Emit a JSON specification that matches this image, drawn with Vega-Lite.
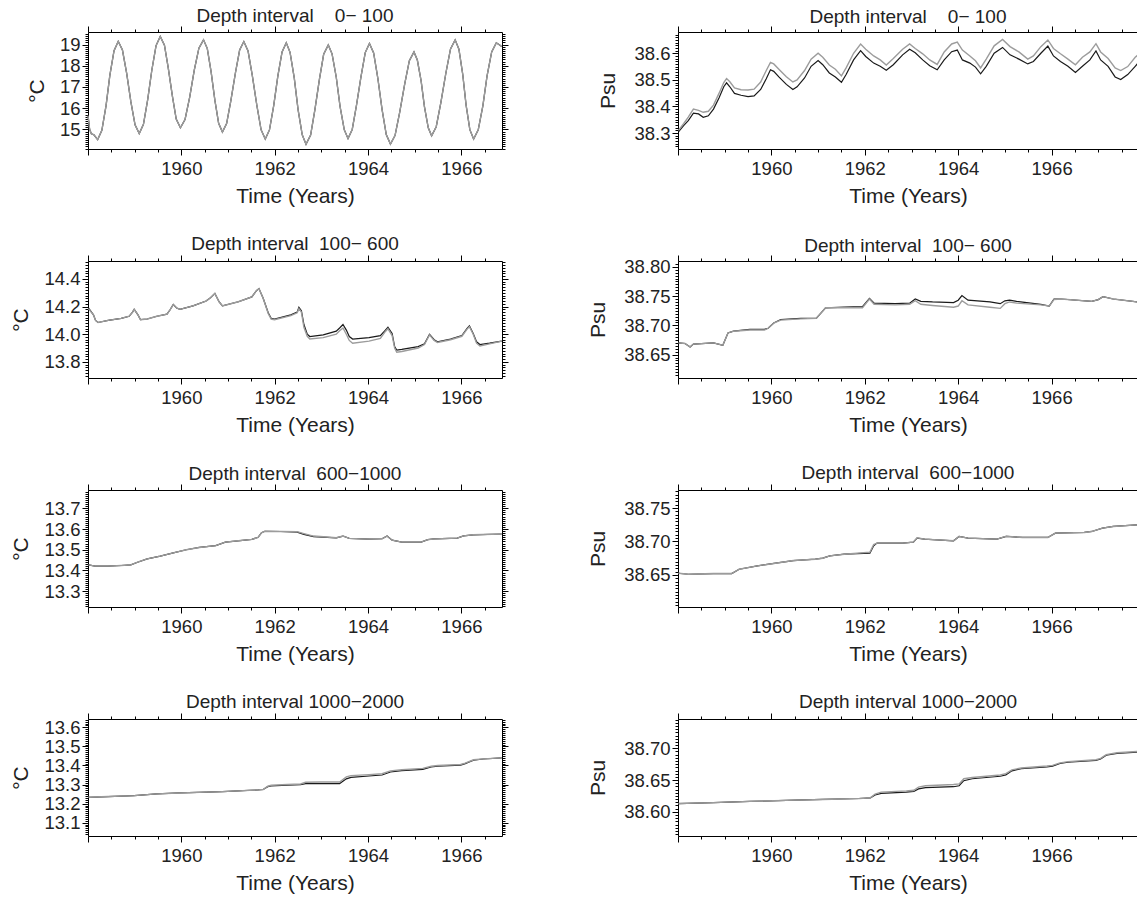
{
  "$schema": "https://vega.github.io/schema/vega-lite/v6.json",
  "background": "white",
  "padding": {"left": 10, "top": 6, "right": 0, "bottom": 0},
  "config": {
    "font": "Liberation Sans",
    "view": {"stroke": null},
    "title": {"fontSize": 19, "fontWeight": "normal", "color": "#222222", "offset": -1, "frame": "group", "anchor": "middle"},
    "axis": {"labelFontSize": 18.5, "labelColor": "#222222", "titleFontSize": 21, "titleFontWeight": "normal", "titleColor": "#222222", "domainColor": "#000000", "tickColor": "#000000", "domainWidth": 1, "tickWidth": 1, "grid": false, "labelOverlap": false, "labelFlush": false, "labelBound": false, "labelPadding": 2, "titlePadding": 12},
    "axisX": {"labelPadding": 4, "titlePadding": 8},
    "line": {"clip": true}
  },
  "datasets": {
    "T0": [
      {"t":1958.000,"k":15.65,"g":15.65},{"t":1958.036,"k":15.00,"g":15.00},{"t":1958.072,"k":14.80,"g":14.80},{"t":1958.126,"k":14.75,"g":14.75},{"t":1958.207,"k":14.52,"g":14.52},
      {"t":1958.297,"k":14.96,"g":14.96},{"t":1958.387,"k":16.12,"g":16.12},{"t":1958.468,"k":17.55,"g":17.55},{"t":1958.558,"k":18.71,"g":18.71},{"t":1958.648,"k":19.15,"g":19.15},
      {"t":1958.738,"k":18.74,"g":18.74},{"t":1958.828,"k":17.65,"g":17.65},{"t":1958.918,"k":16.31,"g":16.31},{"t":1959.008,"k":15.22,"g":15.22},{"t":1959.098,"k":14.81,"g":14.81},
      {"t":1959.188,"k":15.24,"g":15.24},{"t":1959.278,"k":16.39,"g":16.39},{"t":1959.368,"k":17.80,"g":17.80},{"t":1959.458,"k":18.95,"g":18.95},{"t":1959.548,"k":19.38,"g":19.38},
      {"t":1959.638,"k":18.97,"g":18.97},{"t":1959.719,"k":17.90,"g":17.90},{"t":1959.809,"k":16.56,"g":16.56},{"t":1959.890,"k":15.49,"g":15.49},{"t":1959.980,"k":15.08,"g":15.08},
      {"t":1960.079,"k":15.47,"g":15.47},{"t":1960.178,"k":16.51,"g":16.51},{"t":1960.277,"k":17.79,"g":17.79},{"t":1960.376,"k":18.83,"g":18.83},{"t":1960.475,"k":19.22,"g":19.22},
      {"t":1960.556,"k":18.81,"g":18.81},{"t":1960.637,"k":17.72,"g":17.72},{"t":1960.718,"k":16.38,"g":16.38},{"t":1960.799,"k":15.29,"g":15.29},{"t":1960.880,"k":14.88,"g":14.88},
      {"t":1960.970,"k":15.28,"g":15.28},{"t":1961.060,"k":16.35,"g":16.35},{"t":1961.159,"k":17.67,"g":17.67},{"t":1961.249,"k":18.74,"g":18.74},{"t":1961.339,"k":19.14,"g":19.14},
      {"t":1961.429,"k":18.70,"g":18.70},{"t":1961.519,"k":17.56,"g":17.56},{"t":1961.618,"k":16.13,"g":16.13},{"t":1961.708,"k":14.99,"g":14.99},{"t":1961.798,"k":14.55,"g":14.55},
      {"t":1961.888,"k":14.98,"g":14.98},{"t":1961.978,"k":16.11,"g":16.11},{"t":1962.068,"k":17.52,"g":17.52},{"t":1962.158,"k":18.65,"g":18.65},{"t":1962.248,"k":19.08,"g":19.08},
      {"t":1962.329,"k":18.63,"g":18.63},{"t":1962.419,"k":17.43,"g":17.43},{"t":1962.500,"k":15.95,"g":15.95},{"t":1962.590,"k":14.75,"g":14.75},{"t":1962.671,"k":14.30,"g":14.30},
      {"t":1962.770,"k":14.74,"g":14.74},{"t":1962.860,"k":15.91,"g":15.91},{"t":1962.959,"k":17.37,"g":17.37},{"t":1963.049,"k":18.54,"g":18.54},{"t":1963.148,"k":18.98,"g":18.98},
      {"t":1963.229,"k":18.56,"g":18.56},{"t":1963.319,"k":17.46,"g":17.46},{"t":1963.400,"k":16.09,"g":16.09},{"t":1963.490,"k":14.99,"g":14.99},{"t":1963.571,"k":14.57,"g":14.57},
      {"t":1963.661,"k":15.00,"g":15.00},{"t":1963.751,"k":16.12,"g":16.12},{"t":1963.850,"k":17.50,"g":17.50},{"t":1963.940,"k":18.62,"g":18.62},{"t":1964.030,"k":19.05,"g":19.05},
      {"t":1964.120,"k":18.60,"g":18.60},{"t":1964.210,"k":17.41,"g":17.41},{"t":1964.300,"k":15.95,"g":15.95},{"t":1964.390,"k":14.76,"g":14.76},{"t":1964.480,"k":14.31,"g":14.31},
      {"t":1964.579,"k":14.72,"g":14.72},{"t":1964.678,"k":15.81,"g":15.81},{"t":1964.786,"k":17.15,"g":17.15},{"t":1964.885,"k":18.24,"g":18.24},{"t":1964.984,"k":18.65,"g":18.65},
      {"t":1965.056,"k":18.27,"g":18.27},{"t":1965.137,"k":17.29,"g":17.29},{"t":1965.209,"k":16.06,"g":16.06},{"t":1965.290,"k":15.08,"g":15.08},{"t":1965.362,"k":14.70,"g":14.70},
      {"t":1965.461,"k":15.13,"g":15.13},{"t":1965.560,"k":16.26,"g":16.26},{"t":1965.668,"k":17.66,"g":17.66},{"t":1965.767,"k":18.79,"g":18.79},{"t":1965.866,"k":19.22,"g":19.22},
      {"t":1965.947,"k":18.78,"g":18.78},{"t":1966.028,"k":17.61,"g":17.61},{"t":1966.100,"k":16.16,"g":16.16},{"t":1966.181,"k":14.99,"g":14.99},{"t":1966.262,"k":14.55,"g":14.55},
      {"t":1966.361,"k":14.98,"g":14.98},{"t":1966.460,"k":16.11,"g":16.11},{"t":1966.550,"k":17.52,"g":17.52},{"t":1966.649,"k":18.65,"g":18.65},{"t":1966.748,"k":19.08,"g":19.08},
      {"t":1966.820,"k":18.98,"g":18.98},{"t":1966.865,"k":18.90,"g":18.90}
    ],
    "S0": [
      {"t":1958.01,"k":38.304,"g":38.31},{"t":1958.12,"k":38.328,"g":38.335},{"t":1958.22,"k":38.347,"g":38.36},{"t":1958.33,"k":38.375,"g":38.39},{"t":1958.44,"k":38.372,"g":38.385},
      {"t":1958.54,"k":38.359,"g":38.378},{"t":1958.65,"k":38.365,"g":38.382},{"t":1958.76,"k":38.39,"g":38.405},{"t":1958.88,"k":38.433,"g":38.45},{"t":1958.98,"k":38.474,"g":38.49},
      {"t":1959.04,"k":38.489,"g":38.505},{"t":1959.11,"k":38.474,"g":38.493},{"t":1959.21,"k":38.449,"g":38.47},{"t":1959.35,"k":38.442,"g":38.463},{"t":1959.50,"k":38.437,"g":38.462},
      {"t":1959.63,"k":38.44,"g":38.465},{"t":1959.77,"k":38.464,"g":38.492},{"t":1959.89,"k":38.504,"g":38.535},{"t":1959.98,"k":38.538,"g":38.566},{"t":1960.05,"k":38.532,"g":38.56},
      {"t":1960.16,"k":38.511,"g":38.54},{"t":1960.32,"k":38.483,"g":38.512},{"t":1960.46,"k":38.464,"g":38.492},{"t":1960.55,"k":38.474,"g":38.50},{"t":1960.71,"k":38.507,"g":38.535},
      {"t":1960.85,"k":38.551,"g":38.578},{"t":1961.00,"k":38.573,"g":38.60},{"t":1961.10,"k":38.557,"g":38.585},{"t":1961.24,"k":38.526,"g":38.556},{"t":1961.37,"k":38.511,"g":38.54},
      {"t":1961.50,"k":38.491,"g":38.515},{"t":1961.60,"k":38.52,"g":38.545},{"t":1961.76,"k":38.575,"g":38.60},{"t":1961.91,"k":38.61,"g":38.635},{"t":1962.02,"k":38.588,"g":38.615},
      {"t":1962.19,"k":38.563,"g":38.59},{"t":1962.33,"k":38.551,"g":38.575},{"t":1962.46,"k":38.536,"g":38.556},{"t":1962.61,"k":38.557,"g":38.58},{"t":1962.81,"k":38.594,"g":38.615},
      {"t":1962.96,"k":38.615,"g":38.635},{"t":1963.08,"k":38.602,"g":38.618},{"t":1963.24,"k":38.575,"g":38.598},{"t":1963.39,"k":38.553,"g":38.575},{"t":1963.55,"k":38.538,"g":38.558},
      {"t":1963.70,"k":38.575,"g":38.605},{"t":1963.86,"k":38.606,"g":38.635},{"t":1963.98,"k":38.612,"g":38.642},{"t":1964.09,"k":38.575,"g":38.612},{"t":1964.25,"k":38.563,"g":38.59},
      {"t":1964.37,"k":38.548,"g":38.572},{"t":1964.48,"k":38.523,"g":38.545},{"t":1964.60,"k":38.551,"g":38.578},{"t":1964.77,"k":38.60,"g":38.628},{"t":1964.95,"k":38.622,"g":38.652},
      {"t":1965.11,"k":38.594,"g":38.625},{"t":1965.30,"k":38.578,"g":38.605},{"t":1965.49,"k":38.56,"g":38.578},{"t":1965.61,"k":38.569,"g":38.59},{"t":1965.77,"k":38.60,"g":38.625},
      {"t":1965.92,"k":38.627,"g":38.65},{"t":1966.04,"k":38.59,"g":38.618},{"t":1966.19,"k":38.569,"g":38.598},{"t":1966.35,"k":38.551,"g":38.578},{"t":1966.51,"k":38.528,"g":38.557},
      {"t":1966.66,"k":38.551,"g":38.585},{"t":1966.82,"k":38.575,"g":38.605},{"t":1966.95,"k":38.609,"g":38.636},{"t":1967.05,"k":38.575,"g":38.605},{"t":1967.21,"k":38.551,"g":38.58},
      {"t":1967.36,"k":38.511,"g":38.545},{"t":1967.48,"k":38.501,"g":38.535},{"t":1967.63,"k":38.52,"g":38.55},{"t":1967.79,"k":38.551,"g":38.585},{"t":1967.85,"k":38.563,"g":38.594}
    ],
    "T1": [
      {"t":1958.009,"k":14.19,"g":14.185},{"t":1958.117,"k":14.14,"g":14.14},{"t":1958.162,"k":14.10,"g":14.10},{"t":1958.216,"k":14.085,"g":14.085},{"t":1958.432,"k":14.10,"g":14.10},
      {"t":1958.711,"k":14.115,"g":14.115},{"t":1958.882,"k":14.13,"g":14.13},{"t":1958.954,"k":14.16,"g":14.16},{"t":1958.990,"k":14.18,"g":14.18},{"t":1959.071,"k":14.14,"g":14.14},
      {"t":1959.125,"k":14.105,"g":14.105},{"t":1959.269,"k":14.11,"g":14.11},{"t":1959.476,"k":14.13,"g":14.13},{"t":1959.692,"k":14.145,"g":14.145},{"t":1959.755,"k":14.175,"g":14.175},
      {"t":1959.827,"k":14.215,"g":14.215},{"t":1959.899,"k":14.19,"g":14.19},{"t":1959.971,"k":14.18,"g":14.18},{"t":1960.250,"k":14.205,"g":14.205},{"t":1960.529,"k":14.24,"g":14.24},
      {"t":1960.628,"k":14.265,"g":14.265},{"t":1960.718,"k":14.295,"g":14.295},{"t":1960.808,"k":14.235,"g":14.235},{"t":1960.880,"k":14.205,"g":14.205},{"t":1961.222,"k":14.235,"g":14.235},
      {"t":1961.510,"k":14.27,"g":14.27},{"t":1961.609,"k":14.315,"g":14.315},{"t":1961.663,"k":14.33,"g":14.33},{"t":1961.753,"k":14.26,"g":14.26},{"t":1961.861,"k":14.155,"g":14.15},
      {"t":1961.924,"k":14.115,"g":14.11},{"t":1961.996,"k":14.11,"g":14.105},{"t":1962.347,"k":14.14,"g":14.135},{"t":1962.482,"k":14.16,"g":14.155},{"t":1962.518,"k":14.195,"g":14.185},
      {"t":1962.572,"k":14.17,"g":14.16},{"t":1962.626,"k":14.07,"g":14.05},{"t":1962.698,"k":14.00,"g":13.985},{"t":1962.752,"k":13.983,"g":13.965},{"t":1963.040,"k":13.995,"g":13.975},
      {"t":1963.319,"k":14.022,"g":14.00},{"t":1963.391,"k":14.045,"g":14.025},{"t":1963.463,"k":14.07,"g":14.045},{"t":1963.535,"k":14.03,"g":14.00},{"t":1963.598,"k":13.983,"g":13.955},
      {"t":1963.670,"k":13.965,"g":13.935},{"t":1964.021,"k":13.975,"g":13.95},{"t":1964.264,"k":13.99,"g":13.97},{"t":1964.372,"k":14.03,"g":14.02},{"t":1964.426,"k":14.05,"g":14.04},
      {"t":1964.516,"k":14.005,"g":13.99},{"t":1964.570,"k":13.91,"g":13.90},{"t":1964.615,"k":13.885,"g":13.87},{"t":1964.723,"k":13.89,"g":13.875},{"t":1965.074,"k":13.91,"g":13.90},
      {"t":1965.209,"k":13.93,"g":13.925},{"t":1965.317,"k":14.00,"g":13.995},{"t":1965.416,"k":13.96,"g":13.955},{"t":1965.488,"k":13.945,"g":13.94},{"t":1965.767,"k":13.965,"g":13.96},
      {"t":1966.010,"k":13.99,"g":13.985},{"t":1966.118,"k":14.04,"g":14.035},{"t":1966.172,"k":14.06,"g":14.055},{"t":1966.253,"k":14.005,"g":14.00},{"t":1966.325,"k":13.945,"g":13.935},
      {"t":1966.397,"k":13.925,"g":13.915},{"t":1966.604,"k":13.935,"g":13.93},{"t":1966.865,"k":13.95,"g":13.95}
    ],
    "S1": [
      {"t":1958.01,"k":38.67,"g":38.67},{"t":1958.15,"k":38.669,"g":38.669},{"t":1958.26,"k":38.663,"g":38.663},{"t":1958.33,"k":38.668,"g":38.668},{"t":1958.76,"k":38.67,"g":38.67},
      {"t":1958.96,"k":38.666,"g":38.666},{"t":1959.07,"k":38.687,"g":38.687},{"t":1959.19,"k":38.69,"g":38.69},{"t":1959.54,"k":38.693,"g":38.692},{"t":1959.85,"k":38.693,"g":38.692},
      {"t":1959.93,"k":38.695,"g":38.695},{"t":1960.05,"k":38.704,"g":38.704},{"t":1960.20,"k":38.71,"g":38.709},{"t":1960.63,"k":38.712,"g":38.711},{"t":1960.96,"k":38.712,"g":38.712},
      {"t":1961.05,"k":38.72,"g":38.72},{"t":1961.16,"k":38.73,"g":38.73},{"t":1961.56,"k":38.731,"g":38.73},{"t":1961.95,"k":38.732,"g":38.73},{"t":1962.10,"k":38.746,"g":38.745},
      {"t":1962.20,"k":38.738,"g":38.736},{"t":1962.65,"k":38.737,"g":38.735},{"t":1962.96,"k":38.738,"g":38.736},{"t":1963.08,"k":38.745,"g":38.742},{"t":1963.20,"k":38.741,"g":38.736},
      {"t":1963.45,"k":38.74,"g":38.734},{"t":1963.90,"k":38.739,"g":38.731},{"t":1964.00,"k":38.743,"g":38.733},{"t":1964.08,"k":38.751,"g":38.742},{"t":1964.21,"k":38.743,"g":38.735},
      {"t":1964.68,"k":38.74,"g":38.731},{"t":1964.90,"k":38.737,"g":38.729},{"t":1965.00,"k":38.742,"g":38.737},{"t":1965.10,"k":38.743,"g":38.74},{"t":1965.25,"k":38.741,"g":38.738},
      {"t":1965.77,"k":38.736,"g":38.735},{"t":1965.95,"k":38.733,"g":38.733},{"t":1966.05,"k":38.745,"g":38.744},{"t":1966.20,"k":38.745,"g":38.745},{"t":1966.86,"k":38.741,"g":38.741},
      {"t":1967.00,"k":38.744,"g":38.744},{"t":1967.10,"k":38.749,"g":38.749},{"t":1967.32,"k":38.745,"g":38.745},{"t":1967.85,"k":38.74,"g":38.74}
    ],
    "T2": [
      {"t":1958.009,"k":13.427,"g":13.427},{"t":1958.153,"k":13.421,"g":13.421},{"t":1958.432,"k":13.421,"g":13.421},{"t":1958.711,"k":13.424,"g":13.424},{"t":1958.918,"k":13.427,"g":13.427},
      {"t":1959.062,"k":13.44,"g":13.44},{"t":1959.269,"k":13.456,"g":13.456},{"t":1959.548,"k":13.469,"g":13.469},{"t":1959.827,"k":13.485,"g":13.485},{"t":1960.106,"k":13.50,"g":13.50},
      {"t":1960.385,"k":13.511,"g":13.511},{"t":1960.736,"k":13.52,"g":13.52},{"t":1960.943,"k":13.537,"g":13.537},{"t":1961.159,"k":13.542,"g":13.542},{"t":1961.510,"k":13.55,"g":13.55},
      {"t":1961.645,"k":13.56,"g":13.56},{"t":1961.717,"k":13.582,"g":13.582},{"t":1961.789,"k":13.589,"g":13.589},{"t":1962.131,"k":13.588,"g":13.588},{"t":1962.482,"k":13.585,"g":13.587},
      {"t":1962.626,"k":13.574,"g":13.578},{"t":1962.833,"k":13.563,"g":13.566},{"t":1963.319,"k":13.557,"g":13.558},{"t":1963.463,"k":13.566,"g":13.566},{"t":1963.598,"k":13.555,"g":13.555},
      {"t":1964.021,"k":13.551,"g":13.551},{"t":1964.300,"k":13.553,"g":13.553},{"t":1964.408,"k":13.566,"g":13.566},{"t":1964.516,"k":13.546,"g":13.546},{"t":1964.723,"k":13.537,"g":13.537},
      {"t":1965.137,"k":13.537,"g":13.537},{"t":1965.281,"k":13.549,"g":13.549},{"t":1965.416,"k":13.552,"g":13.552},{"t":1965.911,"k":13.556,"g":13.556},{"t":1966.046,"k":13.567,"g":13.567},
      {"t":1966.253,"k":13.572,"g":13.572},{"t":1966.865,"k":13.576,"g":13.576}
    ],
    "S2": [
      {"t":1958.01,"k":38.6525,"g":38.6525},{"t":1958.22,"k":38.651,"g":38.651},{"t":1958.76,"k":38.652,"g":38.652},{"t":1959.15,"k":38.652,"g":38.652},{"t":1959.31,"k":38.6585,"g":38.6585},
      {"t":1959.70,"k":38.6635,"g":38.6635},{"t":1960.09,"k":38.6675,"g":38.6675},{"t":1960.47,"k":38.6715,"g":38.6715},{"t":1960.94,"k":38.6735,"g":38.6735},{"t":1961.10,"k":38.675,"g":38.675},
      {"t":1961.25,"k":38.6785,"g":38.6785},{"t":1961.56,"k":38.681,"g":38.681},{"t":1962.11,"k":38.6825,"g":38.684},{"t":1962.19,"k":38.6935,"g":38.6955},{"t":1962.26,"k":38.6975,"g":38.6975},
      {"t":1962.81,"k":38.6975,"g":38.6975},{"t":1963.04,"k":38.699,"g":38.699},{"t":1963.12,"k":38.705,"g":38.7055},{"t":1963.28,"k":38.7035,"g":38.7035},{"t":1963.90,"k":38.701,"g":38.701},
      {"t":1964.02,"k":38.7075,"g":38.7075},{"t":1964.21,"k":38.705,"g":38.705},{"t":1964.83,"k":38.7035,"g":38.7035},{"t":1965.03,"k":38.7075,"g":38.708},{"t":1965.38,"k":38.706,"g":38.706},
      {"t":1965.92,"k":38.706,"g":38.706},{"t":1966.08,"k":38.7125,"g":38.7125},{"t":1966.70,"k":38.7135,"g":38.7135},{"t":1966.86,"k":38.715,"g":38.715},{"t":1967.09,"k":38.72,"g":38.72},
      {"t":1967.32,"k":38.7225,"g":38.7225},{"t":1967.85,"k":38.725,"g":38.725}
    ],
    "T3": [
      {"t":1958.009,"k":13.233,"g":13.233},{"t":1958.432,"k":13.237,"g":13.237},{"t":1958.990,"k":13.242,"g":13.242},{"t":1959.476,"k":13.251,"g":13.251},{"t":1959.971,"k":13.256,"g":13.256},
      {"t":1960.529,"k":13.26,"g":13.26},{"t":1960.880,"k":13.263,"g":13.263},{"t":1961.222,"k":13.267,"g":13.267},{"t":1961.645,"k":13.272,"g":13.272},{"t":1961.753,"k":13.274,"g":13.274},
      {"t":1961.852,"k":13.289,"g":13.291},{"t":1961.924,"k":13.293,"g":13.296},{"t":1962.275,"k":13.297,"g":13.30},{"t":1962.554,"k":13.30,"g":13.303},{"t":1962.662,"k":13.305,"g":13.312},
      {"t":1962.977,"k":13.305,"g":13.313},{"t":1963.391,"k":13.305,"g":13.313},{"t":1963.535,"k":13.33,"g":13.34},{"t":1963.634,"k":13.338,"g":13.347},{"t":1964.021,"k":13.345,"g":13.352},
      {"t":1964.300,"k":13.35,"g":13.357},{"t":1964.480,"k":13.366,"g":13.372},{"t":1964.723,"k":13.373,"g":13.378},{"t":1965.173,"k":13.38,"g":13.385},{"t":1965.353,"k":13.392,"g":13.396},
      {"t":1965.497,"k":13.397,"g":13.40},{"t":1965.983,"k":13.402,"g":13.405},{"t":1966.082,"k":13.41,"g":13.412},{"t":1966.262,"k":13.428,"g":13.43},{"t":1966.469,"k":13.434,"g":13.435},
      {"t":1966.865,"k":13.44,"g":13.44}
    ],
    "S3": [
      {"t":1958.01,"k":38.613,"g":38.613},{"t":1958.76,"k":38.6145,"g":38.6145},{"t":1959.54,"k":38.6165,"g":38.6165},{"t":1960.32,"k":38.618,"g":38.618},{"t":1961.10,"k":38.6195,"g":38.6195},
      {"t":1961.88,"k":38.621,"g":38.621},{"t":1962.12,"k":38.622,"g":38.622},{"t":1962.22,"k":38.6265,"g":38.628},{"t":1962.35,"k":38.629,"g":38.631},{"t":1962.89,"k":38.631,"g":38.633},
      {"t":1963.05,"k":38.632,"g":38.634},{"t":1963.15,"k":38.636,"g":38.639},{"t":1963.30,"k":38.638,"g":38.641},{"t":1963.90,"k":38.6395,"g":38.643},{"t":1964.02,"k":38.641,"g":38.644},
      {"t":1964.12,"k":38.649,"g":38.652},{"t":1964.30,"k":38.652,"g":38.654},{"t":1964.90,"k":38.656,"g":38.658},{"t":1965.02,"k":38.658,"g":38.66},{"t":1965.15,"k":38.6645,"g":38.666},
      {"t":1965.35,"k":38.668,"g":38.669},{"t":1965.90,"k":38.6705,"g":38.672},{"t":1966.02,"k":38.672,"g":38.673},{"t":1966.18,"k":38.676,"g":38.677},{"t":1966.35,"k":38.678,"g":38.679},
      {"t":1966.95,"k":38.681,"g":38.682},{"t":1967.05,"k":38.683,"g":38.684},{"t":1967.17,"k":38.689,"g":38.69},{"t":1967.40,"k":38.692,"g":38.693},{"t":1967.85,"k":38.694,"g":38.695}
    ]
  },
  "columns": 2,
  "bounds": "flush",
  "spacing": {"row": 112, "column": 176},
  "concat": [
    {
      "width": 414, "height": 117,
      "title": "Depth interval\u00a0\u00a0\u00a0\u00a00\u2212\u00a0100",
      "data": {"name": "T0"},
      "layer": [
        {"mark": {"type": "line", "color": "#1a1a1a", "strokeWidth": 1.2},
         "encoding": {
           "x": {"field": "t", "type": "quantitative", "scale": {"domain": [1958, 1966.87], "nice": false, "zero": false},
                 "axis": {"orient": "bottom", "title": "Time (Years)", "values": [1958,1958.5,1959,1959.5,1960,1960.5,1961,1961.5,1962,1962.5,1963,1963.5,1964,1964.5,1965,1965.5,1966,1966.5],
                          "labelExpr": "datum.value % 2 === 0 && datum.value > 1958 ? format(datum.value, 'd') : ''",
                          "tickSize": {"condition": {"test": "datum.value % 2 === 0", "value": 6}, "value": 3}}},
           "y": {"field": "k", "type": "quantitative", "scale": {"domain": [14.08, 19.59], "nice": false, "zero": false},
                 "axis": {"orient": "left", "title": "°C", "values": [14.1,14.2,14.3,14.4,14.5,14.6,14.7,14.8,14.9,15,15.1,15.2,15.3,15.4,15.5,15.6,15.7,15.8,15.9,16,16.1,16.2,16.3,16.4,16.5,16.6,16.7,16.8,16.9,17,17.1,17.2,17.3,17.4,17.5,17.6,17.7,17.8,17.9,18,18.1,18.2,18.3,18.4,18.5,18.6,18.7,18.8,18.9,19,19.1,19.2,19.3,19.4,19.5],
                          "labelExpr": "abs(datum.value - round(datum.value)) < 0.001 ? format(datum.value, 'd') : ''",
                          "tickSize": {"condition": {"test": "abs(datum.value - round(datum.value)) < 0.001", "value": 6}, "value": 3}}}
         }},
        {"mark": {"type": "line", "color": "#9c9c9c", "strokeWidth": 1.4},
         "encoding": {
           "x": {"field": "t", "type": "quantitative", "scale": {"domain": [1958, 1966.87], "nice": false, "zero": false},
                 "axis": {"orient": "top", "title": null, "labels": false, "values": [1958,1958.5,1959,1959.5,1960,1960.5,1961,1961.5,1962,1962.5,1963,1963.5,1964,1964.5,1965,1965.5,1966,1966.5],
                          "tickSize": {"condition": {"test": "datum.value % 2 === 0", "value": 6}, "value": 3}}},
           "y": {"field": "g", "type": "quantitative", "scale": {"domain": [14.08, 19.59], "nice": false, "zero": false},
                 "axis": {"orient": "right", "title": null, "labels": false, "values": [14.1,14.2,14.3,14.4,14.5,14.6,14.7,14.8,14.9,15,15.1,15.2,15.3,15.4,15.5,15.6,15.7,15.8,15.9,16,16.1,16.2,16.3,16.4,16.5,16.6,16.7,16.8,16.9,17,17.1,17.2,17.3,17.4,17.5,17.6,17.7,17.8,17.9,18,18.1,18.2,18.3,18.4,18.5,18.6,18.7,18.8,18.9,19,19.1,19.2,19.3,19.4,19.5],
                          "tickSize": {"condition": {"test": "abs(datum.value - round(datum.value)) < 0.001", "value": 6}, "value": 3}}}
         }}
      ],
      "resolve": {"axis": {"x": "independent", "y": "independent"}}
    },
    {
      "width": 460, "height": 117,
      "title": "Depth interval\u00a0\u00a0\u00a0\u00a00\u2212\u00a0100",
      "data": {"name": "S0"},
      "layer": [
        {"mark": {"type": "line", "color": "#1a1a1a", "strokeWidth": 1.2},
         "encoding": {
           "x": {"field": "t", "type": "quantitative", "scale": {"domain": [1958, 1967.85], "nice": false, "zero": false},
                 "axis": {"orient": "bottom", "title": "Time (Years)", "values": [1958,1958.5,1959,1959.5,1960,1960.5,1961,1961.5,1962,1962.5,1963,1963.5,1964,1964.5,1965,1965.5,1966,1966.5,1967,1967.5],
                          "labelExpr": "datum.value % 2 === 0 && datum.value > 1958 ? format(datum.value, 'd') : ''",
                          "tickSize": {"condition": {"test": "datum.value % 2 === 0", "value": 6}, "value": 3}}},
           "y": {"field": "k", "type": "quantitative", "scale": {"domain": [38.24, 38.68], "nice": false, "zero": false},
                 "axis": {"orient": "left", "title": "Psu", "titlePadding": 15, "values": [38.25,38.26,38.27,38.28,38.29,38.3,38.31,38.32,38.33,38.34,38.35,38.36,38.37,38.38,38.39,38.4,38.41,38.42,38.43,38.44,38.45,38.46,38.47,38.48,38.49,38.5,38.51,38.52,38.53,38.54,38.55,38.56,38.57,38.58,38.59,38.6,38.61,38.62,38.63,38.64,38.65,38.66,38.67],
                          "labelExpr": "abs(datum.value*10 - round(datum.value*10)) < 0.001 ? format(datum.value, '.1f') : ''",
                          "tickSize": {"condition": {"test": "abs(datum.value*10 - round(datum.value*10)) < 0.001", "value": 6}, "value": 3}}}
         }},
        {"mark": {"type": "line", "color": "#9c9c9c", "strokeWidth": 1.4},
         "encoding": {
           "x": {"field": "t", "type": "quantitative", "scale": {"domain": [1958, 1967.85], "nice": false, "zero": false},
                 "axis": {"orient": "top", "title": null, "labels": false, "values": [1958,1958.5,1959,1959.5,1960,1960.5,1961,1961.5,1962,1962.5,1963,1963.5,1964,1964.5,1965,1965.5,1966,1966.5,1967,1967.5],
                          "tickSize": {"condition": {"test": "datum.value % 2 === 0", "value": 6}, "value": 3}}},
           "y": {"field": "g", "type": "quantitative", "scale": {"domain": [38.24, 38.68], "nice": false, "zero": false}, "axis": null}
         }}
      ],
      "resolve": {"axis": {"x": "independent", "y": "independent"}}
    },
    {
      "width": 414, "height": 117,
      "title": "Depth interval\u00a0\u00a0100\u2212\u00a0600",
      "data": {"name": "T1"},
      "layer": [
        {"mark": {"type": "line", "color": "#1a1a1a", "strokeWidth": 1.2},
         "encoding": {
           "x": {"field": "t", "type": "quantitative", "scale": {"domain": [1958, 1966.87], "nice": false, "zero": false},
                 "axis": {"orient": "bottom", "title": "Time (Years)", "values": [1958,1958.5,1959,1959.5,1960,1960.5,1961,1961.5,1962,1962.5,1963,1963.5,1964,1964.5,1965,1965.5,1966,1966.5],
                          "labelExpr": "datum.value % 2 === 0 && datum.value > 1958 ? format(datum.value, 'd') : ''",
                          "tickSize": {"condition": {"test": "datum.value % 2 === 0", "value": 6}, "value": 3}}},
           "y": {"field": "k", "type": "quantitative", "scale": {"domain": [13.683, 14.53], "nice": false, "zero": false},
                 "axis": {"orient": "left", "title": "°C", "values": [13.7,13.72,13.74,13.76,13.78,13.8,13.82,13.84,13.86,13.88,13.9,13.92,13.94,13.96,13.98,14,14.02,14.04,14.06,14.08,14.1,14.12,14.14,14.16,14.18,14.2,14.22,14.24,14.26,14.28,14.3,14.32,14.34,14.36,14.38,14.4,14.42,14.44,14.46,14.48,14.5,14.52],
                          "labelExpr": "abs(datum.value*5 - round(datum.value*5)) < 0.001 ? format(datum.value, '.1f') : ''",
                          "tickSize": {"condition": {"test": "abs(datum.value*5 - round(datum.value*5)) < 0.001", "value": 6}, "value": 3}}}
         }},
        {"mark": {"type": "line", "color": "#9c9c9c", "strokeWidth": 1.4},
         "encoding": {
           "x": {"field": "t", "type": "quantitative", "scale": {"domain": [1958, 1966.87], "nice": false, "zero": false},
                 "axis": {"orient": "top", "title": null, "labels": false, "values": [1958,1958.5,1959,1959.5,1960,1960.5,1961,1961.5,1962,1962.5,1963,1963.5,1964,1964.5,1965,1965.5,1966,1966.5],
                          "tickSize": {"condition": {"test": "datum.value % 2 === 0", "value": 6}, "value": 3}}},
           "y": {"field": "g", "type": "quantitative", "scale": {"domain": [13.683, 14.53], "nice": false, "zero": false},
                 "axis": {"orient": "right", "title": null, "labels": false, "values": [13.7,13.72,13.74,13.76,13.78,13.8,13.82,13.84,13.86,13.88,13.9,13.92,13.94,13.96,13.98,14,14.02,14.04,14.06,14.08,14.1,14.12,14.14,14.16,14.18,14.2,14.22,14.24,14.26,14.28,14.3,14.32,14.34,14.36,14.38,14.4,14.42,14.44,14.46,14.48,14.5,14.52],
                          "tickSize": {"condition": {"test": "abs(datum.value*5 - round(datum.value*5)) < 0.001", "value": 6}, "value": 3}}}
         }}
      ],
      "resolve": {"axis": {"x": "independent", "y": "independent"}}
    },
    {
      "width": 460, "height": 117,
      "title": "Depth interval\u00a0\u00a0100\u2212\u00a0600",
      "data": {"name": "S1"},
      "layer": [
        {"mark": {"type": "line", "color": "#1a1a1a", "strokeWidth": 1.2},
         "encoding": {
           "x": {"field": "t", "type": "quantitative", "scale": {"domain": [1958, 1967.85], "nice": false, "zero": false},
                 "axis": {"orient": "bottom", "title": "Time (Years)", "values": [1958,1958.5,1959,1959.5,1960,1960.5,1961,1961.5,1962,1962.5,1963,1963.5,1964,1964.5,1965,1965.5,1966,1966.5,1967,1967.5],
                          "labelExpr": "datum.value % 2 === 0 && datum.value > 1958 ? format(datum.value, 'd') : ''",
                          "tickSize": {"condition": {"test": "datum.value % 2 === 0", "value": 6}, "value": 3}}},
           "y": {"field": "k", "type": "quantitative", "scale": {"domain": [38.61, 38.81], "nice": false, "zero": false},
                 "axis": {"orient": "left", "title": "Psu", "titlePadding": 15, "values": [38.615,38.62,38.625,38.63,38.635,38.64,38.645,38.65,38.655,38.66,38.665,38.67,38.675,38.68,38.685,38.69,38.695,38.7,38.705,38.71,38.715,38.72,38.725,38.73,38.735,38.74,38.745,38.75,38.755,38.76,38.765,38.77,38.775,38.78,38.785,38.79,38.795,38.8,38.805],
                          "labelExpr": "abs(datum.value*20 - round(datum.value*20)) < 0.001 ? format(datum.value, '.2f') : ''",
                          "tickSize": {"condition": {"test": "abs(datum.value*20 - round(datum.value*20)) < 0.001", "value": 6}, "value": 3}}}
         }},
        {"mark": {"type": "line", "color": "#9c9c9c", "strokeWidth": 1.4},
         "encoding": {
           "x": {"field": "t", "type": "quantitative", "scale": {"domain": [1958, 1967.85], "nice": false, "zero": false},
                 "axis": {"orient": "top", "title": null, "labels": false, "values": [1958,1958.5,1959,1959.5,1960,1960.5,1961,1961.5,1962,1962.5,1963,1963.5,1964,1964.5,1965,1965.5,1966,1966.5,1967,1967.5],
                          "tickSize": {"condition": {"test": "datum.value % 2 === 0", "value": 6}, "value": 3}}},
           "y": {"field": "g", "type": "quantitative", "scale": {"domain": [38.61, 38.81], "nice": false, "zero": false}, "axis": null}
         }}
      ],
      "resolve": {"axis": {"x": "independent", "y": "independent"}}
    },
    {
      "width": 414, "height": 117,
      "title": "Depth interval\u00a0\u00a0600\u22121000",
      "data": {"name": "T2"},
      "layer": [
        {"mark": {"type": "line", "color": "#1a1a1a", "strokeWidth": 1.2},
         "encoding": {
           "x": {"field": "t", "type": "quantitative", "scale": {"domain": [1958, 1966.87], "nice": false, "zero": false},
                 "axis": {"orient": "bottom", "title": "Time (Years)", "values": [1958,1958.5,1959,1959.5,1960,1960.5,1961,1961.5,1962,1962.5,1963,1963.5,1964,1964.5,1965,1965.5,1966,1966.5],
                          "labelExpr": "datum.value % 2 === 0 && datum.value > 1958 ? format(datum.value, 'd') : ''",
                          "tickSize": {"condition": {"test": "datum.value % 2 === 0", "value": 6}, "value": 3}}},
           "y": {"field": "k", "type": "quantitative", "scale": {"domain": [13.224, 13.788], "nice": false, "zero": false},
                 "axis": {"orient": "left", "title": "°C", "values": [13.23,13.24,13.25,13.26,13.27,13.28,13.29,13.3,13.31,13.32,13.33,13.34,13.35,13.36,13.37,13.38,13.39,13.4,13.41,13.42,13.43,13.44,13.45,13.46,13.47,13.48,13.49,13.5,13.51,13.52,13.53,13.54,13.55,13.56,13.57,13.58,13.59,13.6,13.61,13.62,13.63,13.64,13.65,13.66,13.67,13.68,13.69,13.7,13.71,13.72,13.73,13.74,13.75,13.76,13.77,13.78],
                          "labelExpr": "abs(datum.value*10 - round(datum.value*10)) < 0.001 ? format(datum.value, '.1f') : ''",
                          "tickSize": {"condition": {"test": "abs(datum.value*10 - round(datum.value*10)) < 0.001", "value": 6}, "value": 3}}}
         }},
        {"mark": {"type": "line", "color": "#9c9c9c", "strokeWidth": 1.4},
         "encoding": {
           "x": {"field": "t", "type": "quantitative", "scale": {"domain": [1958, 1966.87], "nice": false, "zero": false},
                 "axis": {"orient": "top", "title": null, "labels": false, "values": [1958,1958.5,1959,1959.5,1960,1960.5,1961,1961.5,1962,1962.5,1963,1963.5,1964,1964.5,1965,1965.5,1966,1966.5],
                          "tickSize": {"condition": {"test": "datum.value % 2 === 0", "value": 6}, "value": 3}}},
           "y": {"field": "g", "type": "quantitative", "scale": {"domain": [13.224, 13.788], "nice": false, "zero": false},
                 "axis": {"orient": "right", "title": null, "labels": false, "values": [13.23,13.24,13.25,13.26,13.27,13.28,13.29,13.3,13.31,13.32,13.33,13.34,13.35,13.36,13.37,13.38,13.39,13.4,13.41,13.42,13.43,13.44,13.45,13.46,13.47,13.48,13.49,13.5,13.51,13.52,13.53,13.54,13.55,13.56,13.57,13.58,13.59,13.6,13.61,13.62,13.63,13.64,13.65,13.66,13.67,13.68,13.69,13.7,13.71,13.72,13.73,13.74,13.75,13.76,13.77,13.78],
                          "tickSize": {"condition": {"test": "abs(datum.value*10 - round(datum.value*10)) < 0.001", "value": 6}, "value": 3}}}
         }}
      ],
      "resolve": {"axis": {"x": "independent", "y": "independent"}}
    },
    {
      "width": 460, "height": 117,
      "title": "Depth interval\u00a0\u00a0600\u22121000",
      "data": {"name": "S2"},
      "layer": [
        {"mark": {"type": "line", "color": "#1a1a1a", "strokeWidth": 1.2},
         "encoding": {
           "x": {"field": "t", "type": "quantitative", "scale": {"domain": [1958, 1967.85], "nice": false, "zero": false},
                 "axis": {"orient": "bottom", "title": "Time (Years)", "values": [1958,1958.5,1959,1959.5,1960,1960.5,1961,1961.5,1962,1962.5,1963,1963.5,1964,1964.5,1965,1965.5,1966,1966.5,1967,1967.5],
                          "labelExpr": "datum.value % 2 === 0 && datum.value > 1958 ? format(datum.value, 'd') : ''",
                          "tickSize": {"condition": {"test": "datum.value % 2 === 0", "value": 6}, "value": 3}}},
           "y": {"field": "k", "type": "quantitative", "scale": {"domain": [38.602, 38.777], "nice": false, "zero": false},
                 "axis": {"orient": "left", "title": "Psu", "titlePadding": 15, "values": [38.605,38.61,38.615,38.62,38.625,38.63,38.635,38.64,38.645,38.65,38.655,38.66,38.665,38.67,38.675,38.68,38.685,38.69,38.695,38.7,38.705,38.71,38.715,38.72,38.725,38.73,38.735,38.74,38.745,38.75,38.755,38.76,38.765,38.77,38.775],
                          "labelExpr": "abs(datum.value*20 - round(datum.value*20)) < 0.001 ? format(datum.value, '.2f') : ''",
                          "tickSize": {"condition": {"test": "abs(datum.value*20 - round(datum.value*20)) < 0.001", "value": 6}, "value": 3}}}
         }},
        {"mark": {"type": "line", "color": "#9c9c9c", "strokeWidth": 1.4},
         "encoding": {
           "x": {"field": "t", "type": "quantitative", "scale": {"domain": [1958, 1967.85], "nice": false, "zero": false},
                 "axis": {"orient": "top", "title": null, "labels": false, "values": [1958,1958.5,1959,1959.5,1960,1960.5,1961,1961.5,1962,1962.5,1963,1963.5,1964,1964.5,1965,1965.5,1966,1966.5,1967,1967.5],
                          "tickSize": {"condition": {"test": "datum.value % 2 === 0", "value": 6}, "value": 3}}},
           "y": {"field": "g", "type": "quantitative", "scale": {"domain": [38.602, 38.777], "nice": false, "zero": false}, "axis": null}
         }}
      ],
      "resolve": {"axis": {"x": "independent", "y": "independent"}}
    },
    {
      "width": 414, "height": 117,
      "title": "Depth interval\u00a01000\u22122000",
      "data": {"name": "T3"},
      "layer": [
        {"mark": {"type": "line", "color": "#1a1a1a", "strokeWidth": 1.2},
         "encoding": {
           "x": {"field": "t", "type": "quantitative", "scale": {"domain": [1958, 1966.87], "nice": false, "zero": false},
                 "axis": {"orient": "bottom", "title": "Time (Years)", "values": [1958,1958.5,1959,1959.5,1960,1960.5,1961,1961.5,1962,1962.5,1963,1963.5,1964,1964.5,1965,1965.5,1966,1966.5],
                          "labelExpr": "datum.value % 2 === 0 && datum.value > 1958 ? format(datum.value, 'd') : ''",
                          "tickSize": {"condition": {"test": "datum.value % 2 === 0", "value": 6}, "value": 3}}},
           "y": {"field": "k", "type": "quantitative", "scale": {"domain": [13.03, 13.644], "nice": false, "zero": false},
                 "axis": {"orient": "left", "title": "°C", "values": [13.04,13.05,13.06,13.07,13.08,13.09,13.1,13.11,13.12,13.13,13.14,13.15,13.16,13.17,13.18,13.19,13.2,13.21,13.22,13.23,13.24,13.25,13.26,13.27,13.28,13.29,13.3,13.31,13.32,13.33,13.34,13.35,13.36,13.37,13.38,13.39,13.4,13.41,13.42,13.43,13.44,13.45,13.46,13.47,13.48,13.49,13.5,13.51,13.52,13.53,13.54,13.55,13.56,13.57,13.58,13.59,13.6,13.61,13.62,13.63,13.64],
                          "labelExpr": "abs(datum.value*10 - round(datum.value*10)) < 0.001 ? format(datum.value, '.1f') : ''",
                          "tickSize": {"condition": {"test": "abs(datum.value*10 - round(datum.value*10)) < 0.001", "value": 6}, "value": 3}}}
         }},
        {"mark": {"type": "line", "color": "#9c9c9c", "strokeWidth": 1.4},
         "encoding": {
           "x": {"field": "t", "type": "quantitative", "scale": {"domain": [1958, 1966.87], "nice": false, "zero": false},
                 "axis": {"orient": "top", "title": null, "labels": false, "values": [1958,1958.5,1959,1959.5,1960,1960.5,1961,1961.5,1962,1962.5,1963,1963.5,1964,1964.5,1965,1965.5,1966,1966.5],
                          "tickSize": {"condition": {"test": "datum.value % 2 === 0", "value": 6}, "value": 3}}},
           "y": {"field": "g", "type": "quantitative", "scale": {"domain": [13.03, 13.644], "nice": false, "zero": false},
                 "axis": {"orient": "right", "title": null, "labels": false, "values": [13.04,13.05,13.06,13.07,13.08,13.09,13.1,13.11,13.12,13.13,13.14,13.15,13.16,13.17,13.18,13.19,13.2,13.21,13.22,13.23,13.24,13.25,13.26,13.27,13.28,13.29,13.3,13.31,13.32,13.33,13.34,13.35,13.36,13.37,13.38,13.39,13.4,13.41,13.42,13.43,13.44,13.45,13.46,13.47,13.48,13.49,13.5,13.51,13.52,13.53,13.54,13.55,13.56,13.57,13.58,13.59,13.6,13.61,13.62,13.63,13.64],
                          "tickSize": {"condition": {"test": "abs(datum.value*10 - round(datum.value*10)) < 0.001", "value": 6}, "value": 3}}}
         }}
      ],
      "resolve": {"axis": {"x": "independent", "y": "independent"}}
    },
    {
      "width": 460, "height": 117,
      "title": "Depth interval\u00a01000\u22122000",
      "data": {"name": "S3"},
      "layer": [
        {"mark": {"type": "line", "color": "#1a1a1a", "strokeWidth": 1.2},
         "encoding": {
           "x": {"field": "t", "type": "quantitative", "scale": {"domain": [1958, 1967.85], "nice": false, "zero": false},
                 "axis": {"orient": "bottom", "title": "Time (Years)", "values": [1958,1958.5,1959,1959.5,1960,1960.5,1961,1961.5,1962,1962.5,1963,1963.5,1964,1964.5,1965,1965.5,1966,1966.5,1967,1967.5],
                          "labelExpr": "datum.value % 2 === 0 && datum.value > 1958 ? format(datum.value, 'd') : ''",
                          "tickSize": {"condition": {"test": "datum.value % 2 === 0", "value": 6}, "value": 3}}},
           "y": {"field": "k", "type": "quantitative", "scale": {"domain": [38.562, 38.746], "nice": false, "zero": false},
                 "axis": {"orient": "left", "title": "Psu", "titlePadding": 15, "values": [38.565,38.57,38.575,38.58,38.585,38.59,38.595,38.6,38.605,38.61,38.615,38.62,38.625,38.63,38.635,38.64,38.645,38.65,38.655,38.66,38.665,38.67,38.675,38.68,38.685,38.69,38.695,38.7,38.705,38.71,38.715,38.72,38.725,38.73,38.735,38.74,38.745],
                          "labelExpr": "abs(datum.value*20 - round(datum.value*20)) < 0.001 ? format(datum.value, '.2f') : ''",
                          "tickSize": {"condition": {"test": "abs(datum.value*20 - round(datum.value*20)) < 0.001", "value": 6}, "value": 3}}}
         }},
        {"mark": {"type": "line", "color": "#9c9c9c", "strokeWidth": 1.4},
         "encoding": {
           "x": {"field": "t", "type": "quantitative", "scale": {"domain": [1958, 1967.85], "nice": false, "zero": false},
                 "axis": {"orient": "top", "title": null, "labels": false, "values": [1958,1958.5,1959,1959.5,1960,1960.5,1961,1961.5,1962,1962.5,1963,1963.5,1964,1964.5,1965,1965.5,1966,1966.5,1967,1967.5],
                          "tickSize": {"condition": {"test": "datum.value % 2 === 0", "value": 6}, "value": 3}}},
           "y": {"field": "g", "type": "quantitative", "scale": {"domain": [38.562, 38.746], "nice": false, "zero": false}, "axis": null}
         }}
      ],
      "resolve": {"axis": {"x": "independent", "y": "independent"}}
    }
  ]
}
